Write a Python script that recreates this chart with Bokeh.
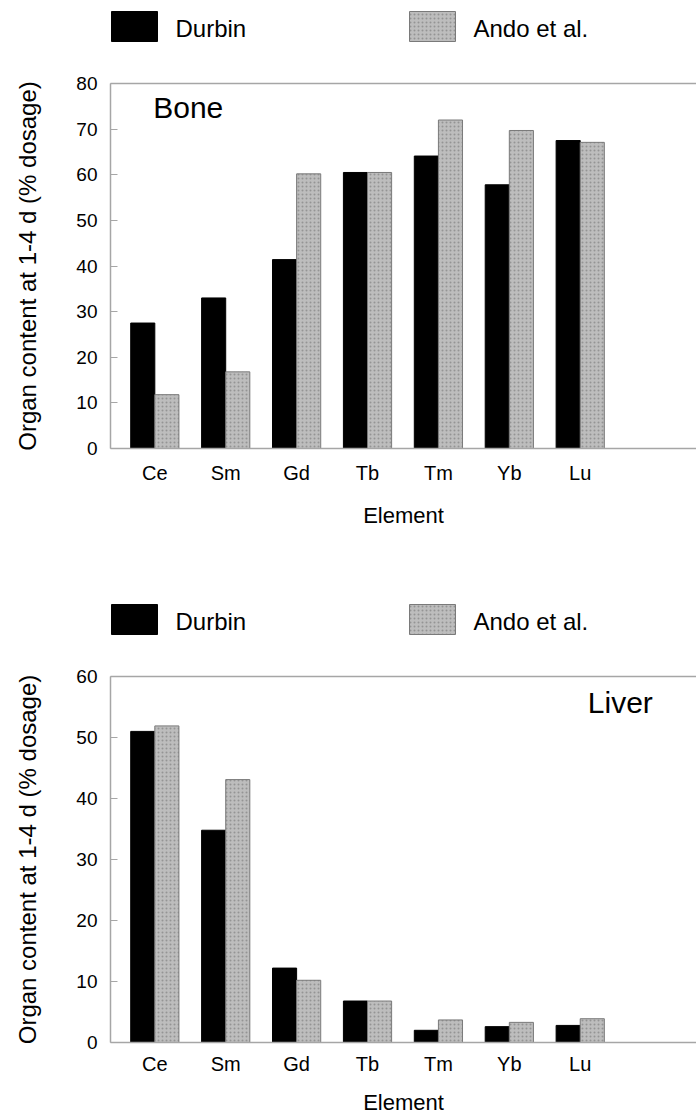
import numpy as np
from bokeh.plotting import figure
from bokeh.models import Range1d, LinearAxis, FixedTicker, Label
from bokeh.layouts import column
from bokeh.embed import file_html
from bokeh.resources import INLINE

# ---- data ----
elements = ["Ce", "Sm", "Gd", "Tb", "Tm", "Yb", "Lu"]
bone_durbin = [27.5, 33.0, 41.4, 60.5, 64.1, 57.8, 67.5]
bone_ando = [11.8, 16.8, 60.2, 60.5, 72.0, 69.7, 67.1]
liver_durbin = [51.0, 34.8, 12.2, 6.8, 2.0, 2.6, 2.8]
liver_ando = [51.9, 43.1, 10.2, 6.8, 3.7, 3.3, 3.9]
bone_yticks = [0, 10, 20, 30, 40, 50, 60, 70, 80]
liver_yticks = [0, 10, 20, 30, 40, 50, 60]
series_names = ["Durbin", "Ando et al."]
y_label = "Organ content at 1-4 d (% dosage)"
x_label = "Element"

FONT = "Liberation Sans"
AXIS_GREY = "#a6a6a6"

DURBIN_STYLE = dict(fill_color="black", line_color="black", line_width=1)
ANDO_STYLE = dict(fill_color="#bdbdbd", line_color="#7a7a7a", line_width=1,
                  hatch_pattern="dot", hatch_color="#8a8a8a", hatch_scale=4,
                  hatch_weight=1, hatch_alpha=0.8)
SERIES_STYLES = [DURBIN_STYLE, ANDO_STYLE]

FRAME_LEFT = 110
FIG_W = 696

# legend layout (pixels in the legend strip, measured from its top)
LEG_SWATCH_LEFT = [111, 409]
LEG_SWATCH_W = 46
LEG_SWATCH_H = 30
LEG_TEXT_GAP = 18


def make_legend_fig(height, swatch_top):
    q = figure(width=FIG_W, height=height, output_backend="svg", toolbar_location=None,
               x_axis_type=None, y_axis_type=None, min_border=0,
               min_border_left=FRAME_LEFT,
               x_range=Range1d(FRAME_LEFT, FIG_W), y_range=Range1d(height, 0))
    q.outline_line_color = None
    q.grid.visible = False
    for name, style, left in zip(series_names, SERIES_STYLES, LEG_SWATCH_LEFT):
        q.quad(left=[left], right=[left + LEG_SWATCH_W],
               top=[swatch_top], bottom=[swatch_top + LEG_SWATCH_H], **style)
        q.add_layout(Label(x=left + LEG_SWATCH_W + LEG_TEXT_GAP,
                           y=swatch_top + 17, text=name,
                           text_font=FONT, text_font_size="24px", text_color="black",
                           text_baseline="alphabetic", text_align="left"))
    return q


def make_panel(durbin, ando, yticks, tag, tag_x, tag_y, height, b_top, b_bottom,
               lab_standoff, axlab_standoff):
    xs = np.arange(1, len(elements) + 1)
    p = figure(width=FIG_W, height=height, output_backend="svg", toolbar_location=None,
               x_range=Range1d(0.375, 8.64), y_range=Range1d(yticks[0], yticks[-1]),
               min_border_left=FRAME_LEFT, min_border_right=0,
               min_border_top=b_top, min_border_bottom=b_bottom,
               background_fill_color="white", border_fill_color="white")
    p.outline_line_color = None
    p.grid.visible = False

    w = 0.34
    p.vbar(x=xs - w / 2, top=durbin, width=w, bottom=0, **DURBIN_STYLE)
    p.vbar(x=xs + w / 2, top=ando, width=w, bottom=0, **ANDO_STYLE)

    # x axis
    xa = p.xaxis[0]
    xa.ticker = FixedTicker(ticks=list(xs))
    xa.major_label_overrides = {int(i): e for i, e in zip(xs, elements)}
    xa.major_tick_in = 0
    xa.major_tick_out = 0
    xa.minor_tick_line_color = None
    xa.axis_line_color = AXIS_GREY
    xa.axis_line_width = 1.5
    xa.major_label_text_font = FONT
    xa.major_label_text_font_size = "20px"
    xa.major_label_text_color = "black"
    xa.major_label_standoff = lab_standoff
    xa.axis_label = x_label
    xa.axis_label_text_font = FONT
    xa.axis_label_text_font_size = "22px"
    xa.axis_label_text_font_style = "normal"
    xa.axis_label_text_color = "black"
    xa.axis_label_standoff = axlab_standoff

    # y axis
    ya = p.yaxis[0]
    ya.ticker = FixedTicker(ticks=yticks)
    ya.major_tick_in = 7
    ya.major_tick_out = 0
    ya.major_tick_line_color = AXIS_GREY
    ya.major_tick_line_width = 1
    ya.minor_tick_line_color = None
    ya.axis_line_color = AXIS_GREY
    ya.axis_line_width = 1.5
    ya.major_label_text_font = FONT
    ya.major_label_text_font_size = "19px"
    ya.major_label_text_color = "black"
    ya.major_label_standoff = 13
    ya.axis_label = y_label
    ya.axis_label_text_font = FONT
    ya.axis_label_text_font_size = "24px"
    ya.axis_label_text_font_style = "normal"
    ya.axis_label_text_color = "black"
    ya.axis_label_standoff = 32

    # top frame line
    top_ax = LinearAxis(ticker=FixedTicker(ticks=[]), axis_line_color=AXIS_GREY,
                        axis_line_width=1.5, major_tick_line_color=None,
                        major_tick_out=0, major_tick_in=0,
                        minor_tick_line_color=None, major_label_text_font_size="0px")
    p.add_layout(top_ax, "above")

    # panel tag
    p.add_layout(Label(x=tag_x, y=tag_y, text=tag, text_font=FONT,
                       text_font_size="30px", text_color="black",
                       text_baseline="alphabetic", text_align="left"))
    return p


leg_top = make_legend_fig(60, 11)
p_top = make_panel(bone_durbin, bone_ando, bone_yticks, "Bone", 0.977, 74.7,
                   height=500, b_top=23, b_bottom=112, lab_standoff=13, axlab_standoff=16)
leg_bot = make_legend_fig(90, 44)
p_bot = make_panel(liver_durbin, liver_ando, liver_yticks, "Liver", 7.107, 55.8,
                   height=469, b_top=26, b_bottom=77, lab_standoff=10, axlab_standoff=12)

layout = column(leg_top, p_top, leg_bot, p_bot, spacing=0)
open("out.html", "w").write(file_html(layout, INLINE))
